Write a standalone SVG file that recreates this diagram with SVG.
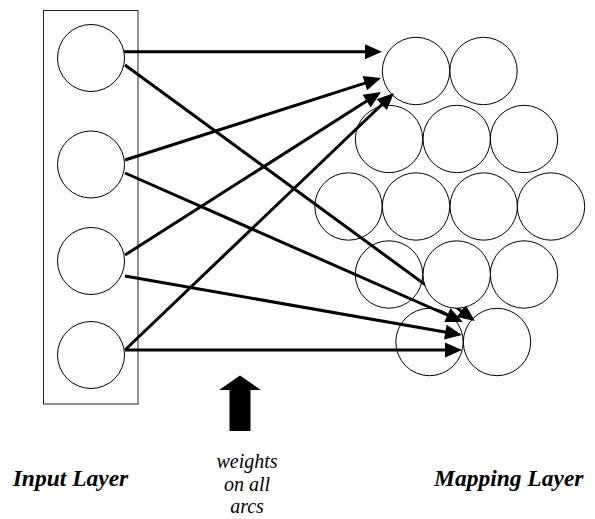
<svg xmlns="http://www.w3.org/2000/svg" width="595" height="519" viewBox="0 0 595 519">
<style>
.node{fill:none;stroke:#000;stroke-width:1}
.top{fill:#fff;stroke:#000;stroke-width:1}
.box{fill:none;stroke:#222;stroke-width:1}
.arc{stroke:#000;stroke-width:3;fill:none;marker-end:url(#ah)}
.lbl{font-family:"Liberation Serif","Times New Roman",serif;font-weight:bold;font-style:italic;font-size:23.5px;fill:#000}
.note{font-family:"Liberation Serif","Times New Roman",serif;font-style:italic;font-size:20px;fill:#000;text-anchor:middle}
</style>
<defs>
<marker id="ah" markerWidth="17" markerHeight="15" refX="1" refY="7.5" orient="auto" markerUnits="userSpaceOnUse" overflow="visible">
<path d="M0,0 L17,7.5 L0,15 z" fill="#000"/>
</marker>
</defs>
<rect width="595" height="519" fill="#fff"/>
<g id="input-layer">
<rect class="box" x="43.5" y="10.5" width="94.5" height="393.5"/>
<g id="in1"><circle class="node" cx="91" cy="58" r="33.5"/></g>
<g id="in2"><circle class="node" cx="91" cy="164.5" r="33.5"/></g>
<g id="in3"><circle class="node" cx="91" cy="261" r="33.5"/></g>
<g id="in4"><circle class="node" cx="91" cy="355" r="33.5"/></g>
</g>
<g id="mapping-layer">
<g id="m11"><circle class="node" cx="416" cy="71" r="33.7"/></g>
<g id="m12"><circle class="node" cx="483.5" cy="71" r="33.7"/></g>
<g id="m21"><circle class="node" cx="389" cy="139" r="33.7"/></g>
<g id="m22"><circle class="node" cx="456.7" cy="139" r="33.7"/></g>
<g id="m23"><circle class="node" cx="524" cy="139" r="33.7"/></g>
<g id="m31"><circle class="node" cx="348.5" cy="206.5" r="33.7"/></g>
<g id="m32"><circle class="node" cx="416" cy="206.5" r="33.7"/></g>
<g id="m33"><circle class="node" cx="483.7" cy="206.5" r="33.7"/></g>
<g id="m34"><circle class="node" cx="551" cy="206.5" r="33.7"/></g>
<g id="m41"><circle class="node" cx="389" cy="274.5" r="33.7"/></g>
<g id="m43"><circle class="node" cx="524" cy="274.5" r="33.7"/></g>
<g id="m51"><circle class="node" cx="429.5" cy="342" r="33.7"/></g>
<g id="m52"><circle class="node" cx="497" cy="342" r="33.7"/></g>
</g>
<g id="connectors">
<line class="arc" x1="124" y1="51.7" x2="366" y2="51.7"/>
<line class="arc" x1="125" y1="65" x2="462" y2="311.6"/>
<line class="arc" x1="125" y1="160" x2="365.8" y2="82.9"/>
<line class="arc" x1="125" y1="173" x2="448.3" y2="315.5"/>
<line class="arc" x1="125" y1="255" x2="367.5" y2="100.6"/>
<line class="arc" x1="125" y1="276" x2="446.3" y2="332.3"/>
<line class="arc" x1="125" y1="350" x2="382.4" y2="104"/>
<line class="arc" x1="125" y1="350" x2="446" y2="350"/>
</g>
<g id="m42"><circle class="top" cx="456.7" cy="274.5" r="33.7"/></g>
<g id="weights-arrow"><polygon points="240,375.5 261,390 250.5,390 250.5,431 229.5,431 229.5,390 219,390" fill="#000"/></g>
<g id="labels">
<text class="lbl" x="12.7" y="486">Input Layer</text>
<text class="lbl" x="434" y="486">Mapping Layer</text>
<text class="note" x="247" y="468">weights</text>
<text class="note" x="247" y="491">on all</text>
<text class="note" x="247" y="513">arcs</text>
</g>
</svg>
